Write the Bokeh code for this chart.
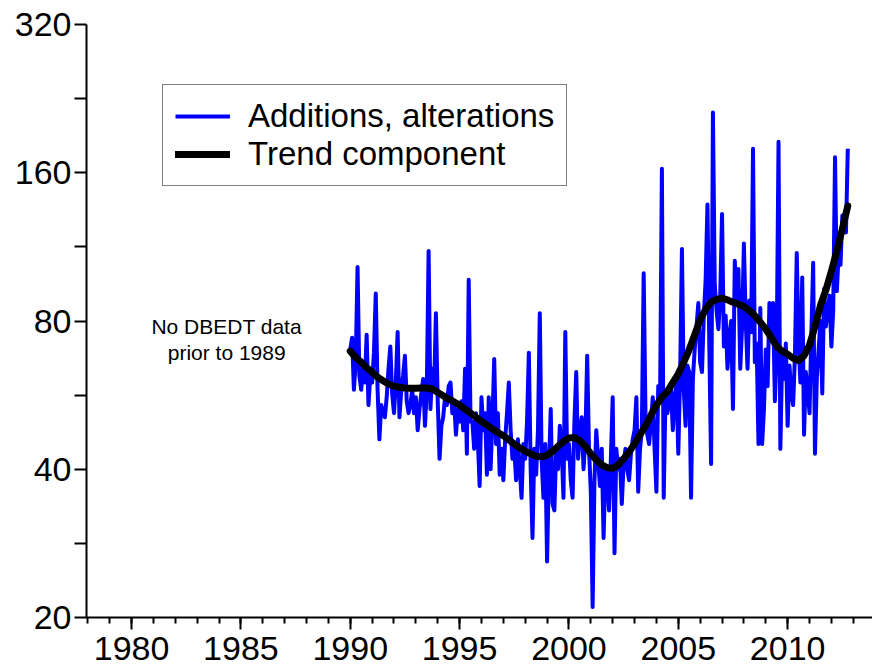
from bokeh.plotting import figure
from bokeh.models import Range1d, FixedTicker, Legend, LegendItem, Label, ColumnDataSource
from bokeh.embed import file_html
from bokeh.resources import INLINE

# ---- data ----
start_year = 1990
additions = [
    70, 74, 58, 66, 103, 62, 58, 64, 60, 75, 54, 62,      # 1990
    60, 69, 91, 58, 46, 54, 52, 51, 56, 64, 71, 57,       # 1991
    52, 60, 76, 51, 58, 62, 68, 55, 52, 54, 58, 52,       # 1992
    56, 48, 53, 57, 61, 49, 58, 111, 53, 64, 58, 83,      # 1993
    55, 42, 49, 51, 56, 54, 59, 60, 52, 55, 47, 53,       # 1994
    50, 55, 48, 64, 43, 97, 50, 50, 44, 52, 46, 37,       # 1995
    56, 48, 52, 39, 56, 40, 50, 67, 45, 52, 39, 44,       # 1996
    38, 46, 52, 60, 48, 42, 44, 38, 46, 40, 35, 45,       # 1997
    42, 50, 69, 40, 29, 44, 39, 48, 83, 42, 35, 45,       # 1998
    26, 40, 53, 34, 33, 44, 40, 49, 44, 35, 76, 42,       # 1999
    45, 38, 35, 50, 63, 42, 47, 51, 40, 46, 68, 44,       # 2000
    36, 21, 38, 48, 42, 37, 44, 29, 40, 39, 33, 42,       # 2001
    56, 27, 44, 40, 42, 34, 41, 44, 40, 38, 43, 46,       # 2002
    48, 56, 36, 44, 48, 100, 52, 47, 45, 50, 56, 44,      # 2003
    36, 59, 55, 163, 35, 57, 52, 55, 58, 48, 56, 60,      # 2004
    43, 62, 112, 58, 49, 65, 63, 35, 61, 70, 78, 87,      # 2005
    66, 63, 82, 97, 138, 72, 41, 212, 95, 84, 77, 90,     # 2006
    132, 71, 82, 64, 75, 80, 53, 106, 88, 102, 64, 78,    # 2007
    115, 80, 64, 88, 76, 179, 66, 72, 45, 85, 45, 53,     # 2008
    70, 59, 87, 75, 87, 55, 70, 185, 44, 68, 61, 72,      # 2009
    49, 65, 57, 54, 68, 110, 72, 60, 98, 47, 63, 58,      # 2010
    52, 75, 105, 43, 61, 70, 80, 57, 93, 78, 84, 90,      # 2011
    71, 84, 172, 92, 110, 104, 131, 130, 121, 179,        # 2012
]
trend = [
    69.5, 67.5, 66.0, 64.3,     # 1990
    63.0, 61.5, 60.5, 59.6,     # 1991
    59.0, 58.7, 58.5, 58.4,     # 1992
    58.4, 58.5, 58.5, 58.2,     # 1993
    57.3, 56.4, 55.5, 54.8,     # 1994
    54.0, 53.0, 52.0, 51.0,     # 1995
    50.0, 49.2, 48.3, 47.5,     # 1996
    46.8, 45.9, 45.0, 44.2,     # 1997
    43.5, 43.0, 42.5, 42.4,     # 1998
    42.7, 43.5, 44.5, 45.5,     # 1999
    46.3, 46.4, 45.7, 44.5,     # 2000
    43.0, 41.8, 40.8, 40.3,     # 2001
    40.2, 40.8, 42.0, 43.4,     # 2002
    45.0, 47.0, 49.0, 51.5,     # 2003
    54.0, 56.0, 57.5, 60.0,     # 2004
    62.5, 66.0, 70.0, 75.0,     # 2005
    80.5, 84.5, 87.5, 88.5,     # 2006
    89.0, 88.3, 87.3, 86.5,     # 2007
    85.6, 84.0, 82.0, 79.5,     # 2008
    77.0, 74.0, 71.0, 69.5,     # 2009
    68.5, 67.2, 66.5, 68.0,     # 2010
    71.5, 78.0, 86.0, 92.5,     # 2011
    101.0, 111.0, 123.0, 137.0, # 2012
]
x_major_ticks = [1980, 1985, 1990, 1995, 2000, 2005, 2010]
y_major_ticks = [20, 40, 80, 160, 320]
series_labels = ["Additions, alterations", "Trend component"]
note_lines = ["No DBEDT data", "prior to 1989"]

months_x = [start_year + i / 12 for i in range(len(additions))]
quarters_x = [start_year + j / 4 for j in range(len(trend))]

FONT = "Liberation Sans"

p = figure(width=872, height=668, output_backend="svg", toolbar_location=None,
           y_axis_type="log",
           x_range=Range1d(1977.94, 2013.88), y_range=Range1d(20, 320),
           min_border_left=86, min_border_right=0, min_border_top=24, min_border_bottom=51)
p.outline_line_color = None
p.xgrid.visible = False
p.ygrid.visible = False
p.background_fill_color = "white"
p.border_fill_color = "white"

src_a = ColumnDataSource(dict(x=months_x, y=additions))
src_t = ColumnDataSource(dict(x=quarters_x, y=trend))
r_a = p.line("x", "y", source=src_a, line_color="#0000FF", line_width=4, line_join="round")
r_t = p.line("x", "y", source=src_t, line_color="black", line_width=7, line_join="round", line_cap="round")

# x axis
xa = p.xaxis[0]
xa.ticker = FixedTicker(ticks=x_major_ticks, minor_ticks=list(range(1978, 2014)))
xa.major_tick_out = 12
xa.major_tick_in = 0
xa.minor_tick_out = 6
xa.minor_tick_in = 0
xa.axis_line_width = 2
xa.major_tick_line_width = 2
xa.minor_tick_line_width = 2
xa.major_label_text_font = FONT
xa.major_label_text_font_size = "34px"
xa.major_label_text_color = "black"
xa.major_label_standoff = 7

# y axis
ya = p.yaxis[0]
minor_y = [20 * 2 ** (k + 0.5) for k in range(4)]
ya.ticker = FixedTicker(ticks=y_major_ticks, minor_ticks=minor_y)
ya.major_label_overrides = {v: str(v) for v in y_major_ticks}
ya.major_tick_out = 12
ya.major_tick_in = 0
ya.minor_tick_out = 12
ya.minor_tick_in = 0
ya.axis_line_width = 2
ya.major_tick_line_width = 2
ya.minor_tick_line_width = 2
ya.major_label_text_font = FONT
ya.major_label_text_font_size = "34px"
ya.major_label_text_color = "black"
ya.major_label_standoff = 3

legend = Legend(items=[LegendItem(label=series_labels[0], renderers=[r_a]),
                       LegendItem(label=series_labels[1], renderers=[r_t])],
                location=(76, 431))
legend.label_text_font = FONT
legend.label_text_font_size = "33px"
legend.label_text_color = "black"
legend.padding = 12
legend.spacing = 0
legend.margin = 0
legend.label_height = 36
legend.glyph_height = 36
legend.glyph_width = 55
legend.label_standoff = 18
legend.border_line_color = "black"
legend.border_line_width = 1.5
legend.background_fill_color = "white"
legend.background_fill_alpha = 1.0
p.add_layout(legend)

for k, line in enumerate(note_lines):
    p.add_layout(Label(x=1984.35, y=[78, 69][k], text=line, text_align="center",
                       text_baseline="middle", text_font=FONT,
                       text_font_size="21px", text_color="black"))

open("out.html", "w").write(file_html(p, INLINE))
